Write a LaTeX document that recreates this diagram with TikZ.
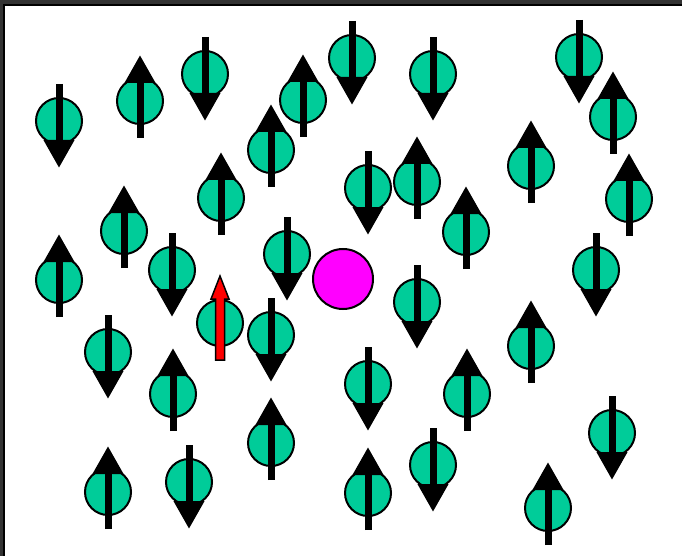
\documentclass[tikz,border=0pt]{standalone}
\usetikzlibrary{arrows.meta}
\definecolor{spingreen}{RGB}{0,204,153}
\definecolor{framegray}{RGB}{51,51,51}
\definecolor{impmagenta}{RGB}{255,0,255}
\definecolor{moment}{RGB}{255,0,0}
\tikzset{
  spin/.style={circle, draw=black, line width=2pt, fill=spingreen, minimum size=46pt, inner sep=0pt},
  spinarrow/.style={line width=7pt, -{Triangle[length=28pt,width=29pt]}},
  impurity/.style={circle, draw=black, line width=2pt, fill=impmagenta, minimum size=60pt, inner sep=0pt}
}
\begin{document}
\begin{tikzpicture}[x=1pt, y=-1pt]
  \useasboundingbox (0,0) rectangle (682,556);
  \fill[white] (0,0) rectangle (682,556);
  % frame
  \fill[framegray] (0,0) rectangle (682,4);
  \fill[framegray] (0,0) rectangle (3,556);
  \draw[line width=2pt] (4.3,556) -- (4.3,5) -- (682,5);

  % spins
  \node[spin] (s1) at (59,121) {};
  \draw[spinarrow] ([yshift=37pt]s1.center) -- ([yshift=-47pt]s1.center);
  \node[spin] (s2) at (140,101) {};
  \draw[spinarrow] ([yshift=-37pt]s2.center) -- ([yshift=46pt]s2.center);
  \node[spin] (s3) at (205,74) {};
  \draw[spinarrow] ([yshift=37pt]s3.center) -- ([yshift=-47pt]s3.center);
  \node[spin] (s4) at (303,100) {};
  \draw[spinarrow] ([yshift=-37pt]s4.center) -- ([yshift=46pt]s4.center);
  \node[spin] (s5) at (352,58) {};
  \draw[spinarrow] ([yshift=37pt]s5.center) -- ([yshift=-47pt]s5.center);
  \node[spin] (s6) at (433,74) {};
  \draw[spinarrow] ([yshift=37pt]s6.center) -- ([yshift=-47pt]s6.center);
  \node[spin] (s7) at (579,57) {};
  \draw[spinarrow] ([yshift=37pt]s7.center) -- ([yshift=-47pt]s7.center);
  \node[spin] (s8) at (613,117) {};
  \draw[spinarrow] ([yshift=-37pt]s8.center) -- ([yshift=46pt]s8.center);
  \node[spin] (s9) at (271,150) {};
  \draw[spinarrow] ([yshift=-37pt]s9.center) -- ([yshift=46pt]s9.center);
  \node[spin] (s10) at (221,198) {};
  \draw[spinarrow] ([yshift=-37pt]s10.center) -- ([yshift=46pt]s10.center);
  \node[spin] (s11) at (368,188) {};
  \draw[spinarrow] ([yshift=37pt]s11.center) -- ([yshift=-47pt]s11.center);
  \node[spin] (s12) at (417,182) {};
  \draw[spinarrow] ([yshift=-37pt]s12.center) -- ([yshift=46pt]s12.center);
  \node[spin] (s13) at (531,166) {};
  \draw[spinarrow] ([yshift=-37pt]s13.center) -- ([yshift=46pt]s13.center);
  \node[spin] (s14) at (629,199) {};
  \draw[spinarrow] ([yshift=-37pt]s14.center) -- ([yshift=46pt]s14.center);
  \node[spin] (s15) at (124,231) {};
  \draw[spinarrow] ([yshift=-37pt]s15.center) -- ([yshift=46pt]s15.center);
  \node[spin] (s16) at (466,232) {};
  \draw[spinarrow] ([yshift=-37pt]s16.center) -- ([yshift=46pt]s16.center);
  \node[spin] (s17) at (59,280) {};
  \draw[spinarrow] ([yshift=-37pt]s17.center) -- ([yshift=46pt]s17.center);
  \node[spin] (s18) at (172,270) {};
  \draw[spinarrow] ([yshift=37pt]s18.center) -- ([yshift=-47pt]s18.center);
  \node[spin] (s19) at (287,254) {};
  \draw[spinarrow] ([yshift=37pt]s19.center) -- ([yshift=-47pt]s19.center);
  \node[spin] (s20) at (596,270) {};
  \draw[spinarrow] ([yshift=37pt]s20.center) -- ([yshift=-47pt]s20.center);
  \node[spin] (s21) at (417,302) {};
  \draw[spinarrow] ([yshift=37pt]s21.center) -- ([yshift=-47pt]s21.center);
  \node[spin] (s22) at (271,335) {};
  \draw[spinarrow] ([yshift=37pt]s22.center) -- ([yshift=-47pt]s22.center);
  \node[spin] (s23) at (108,352) {};
  \draw[spinarrow] ([yshift=37pt]s23.center) -- ([yshift=-47pt]s23.center);
  \node[spin] (s24) at (531,346) {};
  \draw[spinarrow] ([yshift=-37pt]s24.center) -- ([yshift=46pt]s24.center);
  \node[spin] (s25) at (173,394) {};
  \draw[spinarrow] ([yshift=-37pt]s25.center) -- ([yshift=46pt]s25.center);
  \node[spin] (s26) at (368,384) {};
  \draw[spinarrow] ([yshift=37pt]s26.center) -- ([yshift=-47pt]s26.center);
  \node[spin] (s27) at (467,394) {};
  \draw[spinarrow] ([yshift=-37pt]s27.center) -- ([yshift=46pt]s27.center);
  \node[spin] (s28) at (271,443) {};
  \draw[spinarrow] ([yshift=-37pt]s28.center) -- ([yshift=46pt]s28.center);
  \node[spin] (s29) at (612,433) {};
  \draw[spinarrow] ([yshift=37pt]s29.center) -- ([yshift=-47pt]s29.center);
  \node[spin] (s30) at (108,492) {};
  \draw[spinarrow] ([yshift=-37pt]s30.center) -- ([yshift=46pt]s30.center);
  \node[spin] (s31) at (189,482) {};
  \draw[spinarrow] ([yshift=37pt]s31.center) -- ([yshift=-47pt]s31.center);
  \node[spin] (s32) at (368,493) {};
  \draw[spinarrow] ([yshift=-37pt]s32.center) -- ([yshift=46pt]s32.center);
  \node[spin] (s33) at (433,465) {};
  \draw[spinarrow] ([yshift=37pt]s33.center) -- ([yshift=-47pt]s33.center);
  \node[spin] (s34) at (548,508) {};
  \draw[spinarrow] ([yshift=-37pt]s34.center) -- ([yshift=46pt]s34.center);

  % probe spin with red moment
  \node[spin] (probe) at (220,323) {};
  \draw[fill=moment, line width=1.5pt] ([shift={(-4.5pt,-37pt)}]probe.center) -- ++(0,-61) -- ++(-4.5,0)
    -- ++(9,-23) -- ++(9,23) -- ++(-4.5,0) -- ++(0,61) -- cycle;

  % impurity
  \node[impurity] (imp) at (343,279) {};
\end{tikzpicture}
\end{document}
